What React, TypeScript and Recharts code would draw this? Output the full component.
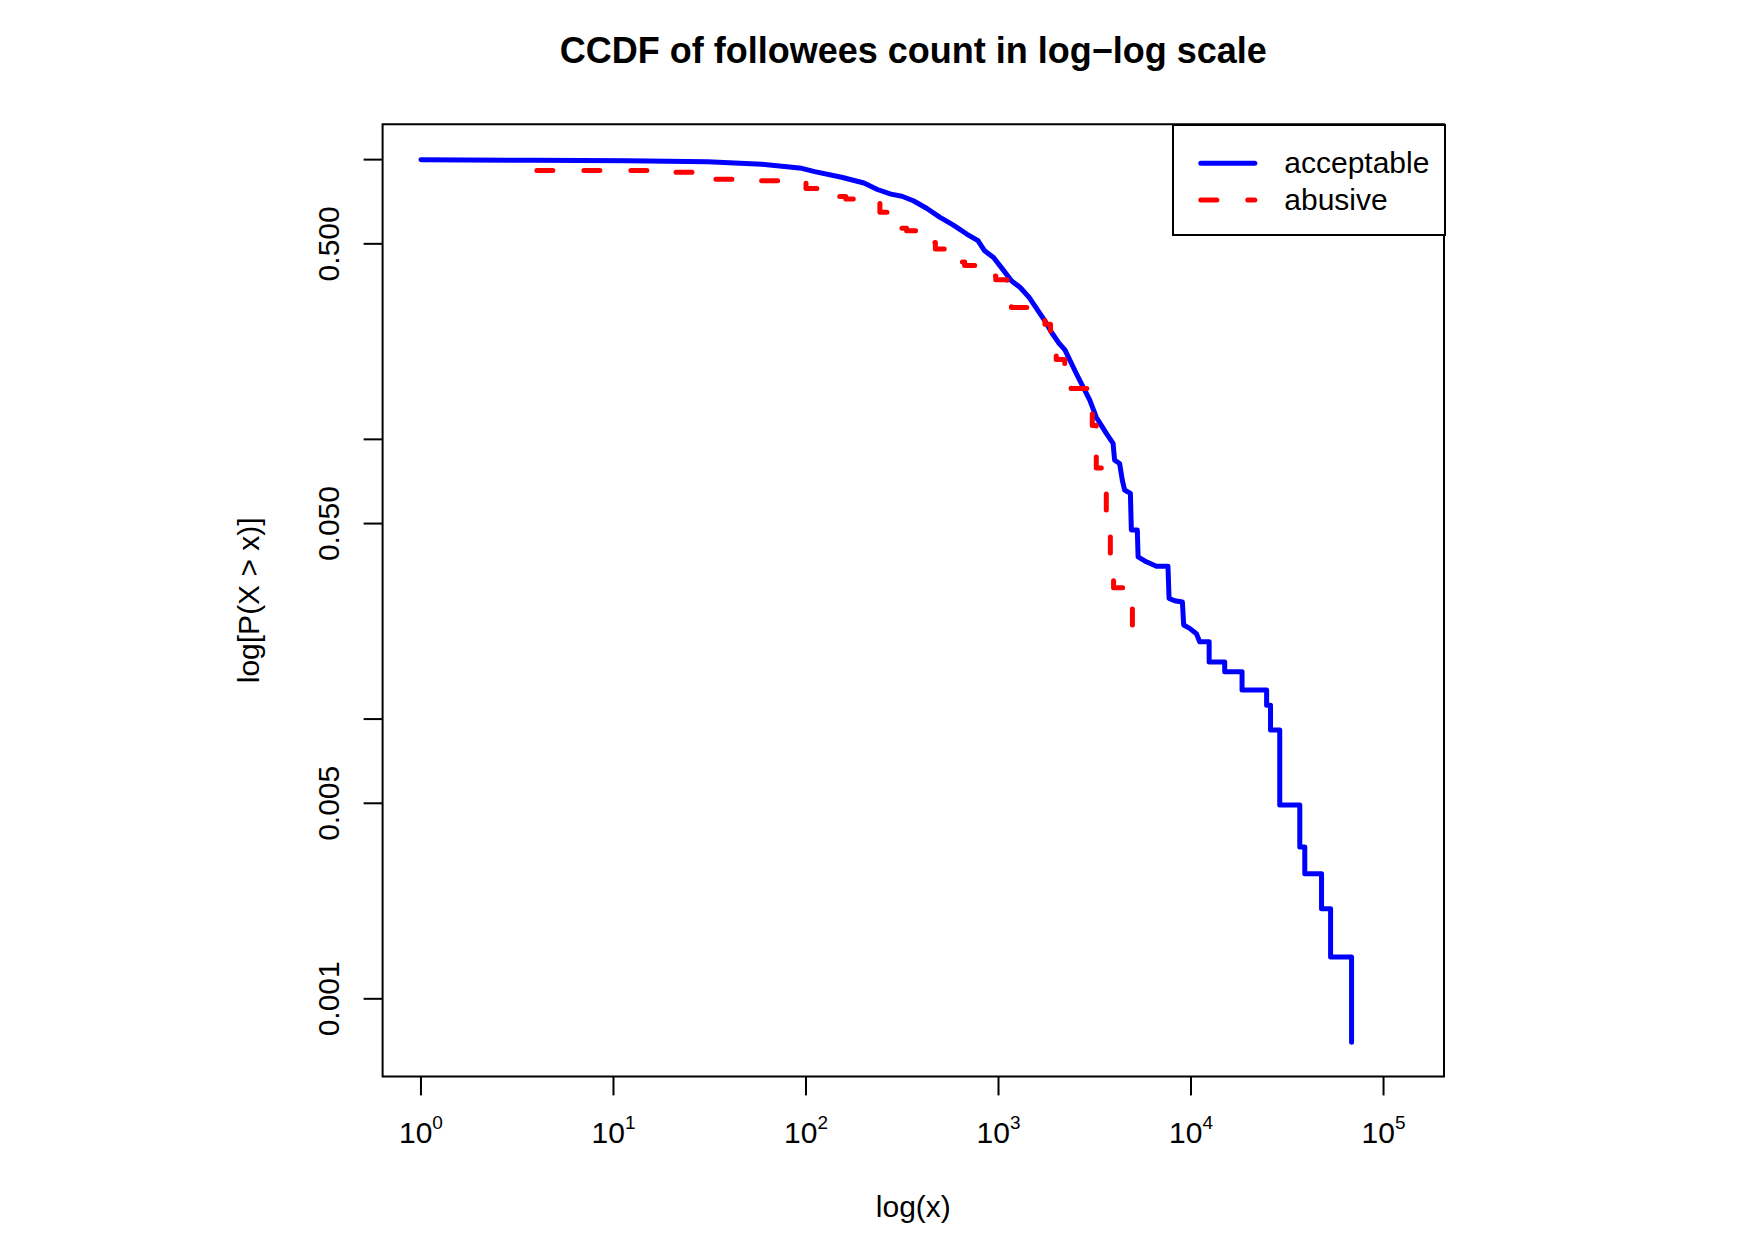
import React from "react";
import { ComposedChart, Line, XAxis, YAxis, ReferenceArea, Legend } from "recharts";

// CCDF read as (followees, P(X > x)) pairs
const acceptableFollowees = [
  1, 3.84, 11.8, 30.8, 59, 95, 111, 153, 200, 235, 276, 315, 361, 423, 497, 583, 684, 782, 847,
  942, 1050, 1167, 1297, 1445, 1607, 1742, 1888, 2046, 2213, 2535, 2979, 3220, 3631, 3936, 4009,
  4256, 4395, 4519, 4842, 4898, 5260, 5310, 5860, 6610, 7590, 7690, 8220, 9020, 9160, 9840,
  10670, 11090, 12420, 12420, 14960, 14960, 18410, 18410, 24700, 24700, 25880, 25880, 28900,
  28900, 36730, 36730, 38990, 38990, 47640, 47640, 53090, 53090, 68230, 68230,
];
const acceptableCcdf = [
  1.0, 0.9945, 0.9918, 0.9835, 0.963, 0.931, 0.906, 0.865, 0.825, 0.782, 0.753, 0.74, 0.713, 0.67,
  0.622, 0.583, 0.542, 0.513, 0.472, 0.447, 0.406, 0.369, 0.349, 0.321, 0.288, 0.265, 0.241, 0.222,
  0.209, 0.172, 0.138, 0.12, 0.105, 0.0968, 0.0843, 0.082, 0.0715, 0.0659, 0.0641, 0.0474, 0.0474,
  0.038, 0.0365, 0.0352, 0.0352, 0.027, 0.0265, 0.0262, 0.0217, 0.0211, 0.0202, 0.0189, 0.0189,
  0.016, 0.016, 0.01476, 0.01476, 0.0127, 0.0127, 0.0112, 0.0112, 0.00914, 0.00914, 0.00493,
  0.00493, 0.00349, 0.00349, 0.0028, 0.0028, 0.0021, 0.0021, 0.00141, 0.00141, 0.0007,
];

const abusiveFollowees = [
  4, 19, 31, 53, 95, 100, 138, 161, 223, 242, 283, 333, 423, 470, 583, 667, 847, 968, 1107, 1167,
  1607, 1742, 1862, 1995, 2208, 2382, 2920, 3070, 3220, 3490, 3630, 3810, 3960, 4900, 4960,
];
const abusiveCcdf = [
  0.915, 0.901, 0.85, 0.841, 0.825, 0.789, 0.738, 0.723, 0.698, 0.648, 0.568, 0.557, 0.506, 0.479,
  0.431, 0.418, 0.384, 0.372, 0.321, 0.296, 0.277, 0.258, 0.211, 0.193, 0.161, 0.152, 0.125, 0.112,
  0.079, 0.066, 0.052, 0.038, 0.0295, 0.0255, 0.019,
];

const seriesNames = ["acceptable", "abusive"];

const xTicks = [1, 10, 100, 1000, 10000, 100000];
const yTicks = [0.001, 0.005, 0.01, 0.05, 0.1, 0.5, 1];
const yLabelled = [0.001, 0.005, 0.05, 0.5];
const yTickLabels = ["0.001", "0.005", "0.050", "0.500"];

const xDomain = [0.632, 206100];
const yDomain = [0.000528, 1.3386];

const acceptableData = acceptableFollowees.map((x, i) => ({ x, y: acceptableCcdf[i] }));
const abusiveData = abusiveFollowees.map((x, i) => ({ x, y: abusiveCcdf[i] }));

const FONT = "'Liberation Sans', Arial, Helvetica, sans-serif";
const DASH = "16 31";

const XTick = (props: any) => {
  const { x, y, payload } = props;
  const exp = Math.round(Math.log10(payload.value));
  return (
    <text x={x} y={y + 48} textAnchor="middle" fontFamily={FONT} fontSize={30} fill="#000">
      10
      <tspan dy={-14} fontSize={19}>
        {exp}
      </tspan>
    </text>
  );
};

const YTick = (props: any) => {
  const { x, y, payload } = props;
  const idx = yLabelled.findIndex((v) => Math.abs(v - payload.value) / v < 1e-6);
  if (idx < 0) return <g />;
  const bx = x - 25;
  return (
    <text
      x={bx}
      y={y}
      transform={`rotate(-90, ${bx}, ${y})`}
      textAnchor="middle"
      fontFamily={FONT}
      fontSize={30}
      fill="#000"
    >
      {yTickLabels[idx]}
    </text>
  );
};

const LegendBox = (props: any) => {
  const entries = [...(props.payload || [])].sort(
    (a: any, b: any) => seriesNames.indexOf(a.value) - seriesNames.indexOf(b.value)
  );
  return (
    <svg width={274} height={112}>
      <rect x={1} y={1} width={272} height={110} fill="#fff" stroke="#000" strokeWidth={2} />
      {entries.map((entry: any, i: number) => {
        const ly = 39.3 + i * 36.7;
        return (
          <g key={entry.value}>
            <line
              x1={28.8}
              x2={82.8}
              y1={ly}
              y2={ly}
              stroke={entry.color}
              strokeWidth={5}
              strokeLinecap="round"
              strokeDasharray={entry.payload?.strokeDasharray}
            />
            <text x={112.3} y={ly + 10} fontFamily={FONT} fontSize={30} fill="#000">
              {entry.value}
            </text>
          </g>
        );
      })}
    </svg>
  );
};

export default function App() {
  return (
    <div
      style={{
        position: "absolute",
        left: 0,
        top: 0,
        width: 1754,
        height: 1241,
        background: "#fff",
        fontFamily: FONT,
      }}
    >
      <ComposedChart
        width={1754}
        height={1241}
        margin={{ top: 124.2, right: 310, bottom: 64.6, left: 282.6 }}
      >
        <XAxis
          type="number"
          dataKey="x"
          scale="log"
          domain={xDomain}
          allowDataOverflow
          ticks={xTicks}
          interval={0}
          tick={XTick}
          tickSize={19}
          tickMargin={0}
          tickLine={{ stroke: "#000", strokeWidth: 2 }}
          axisLine={false}
          height={100}
        />
        <YAxis
          type="number"
          dataKey="y"
          scale="log"
          domain={yDomain}
          allowDataOverflow
          ticks={yTicks}
          interval={0}
          tick={YTick}
          tickSize={19}
          tickMargin={0}
          tickLine={{ stroke: "#000", strokeWidth: 2 }}
          axisLine={false}
          width={100}
        />
        <ReferenceArea
          x1={xDomain[0]}
          x2={xDomain[1]}
          y1={yDomain[0]}
          y2={yDomain[1]}
          fill="none"
          fillOpacity={0}
          stroke="#000"
          strokeWidth={2}
          ifOverflow="visible"
        />
        <Line
          name={seriesNames[0]}
          data={acceptableData}
          dataKey="y"
          type="linear"
          stroke="#0000ff"
          strokeWidth={5}
          strokeLinecap="round"
          strokeLinejoin="round"
          dot={false}
          activeDot={false}
          isAnimationActive={false}
        />
        <Line
          name={seriesNames[1]}
          data={abusiveData}
          dataKey="y"
          type="stepAfter"
          stroke="#ff0000"
          strokeWidth={5}
          strokeDasharray={DASH}
          strokeLinecap="round"
          strokeLinejoin="round"
          dot={false}
          activeDot={false}
          isAnimationActive={false}
        />
        <Legend
          layout="vertical"
          align="center"
          verticalAlign="middle"
          width={274}
          height={112}
          wrapperStyle={{ left: 1171.7, top: 124, width: 274, height: 112 }}
          content={LegendBox}
        />
      </ComposedChart>
      <svg
        width={1754}
        height={1241}
        style={{ position: "absolute", left: 0, top: 0, pointerEvents: "none" }}
      >
        <text x={913.3} y={63} textAnchor="middle" fontFamily={FONT} fontWeight="bold" fontSize={36}>
          CCDF of followees count in log−log scale
        </text>
        <text x={913.3} y={1217} textAnchor="middle" fontFamily={FONT} fontSize={30}>
          log(x)
        </text>
        <text
          x={259}
          y={600.3}
          transform="rotate(-90, 259, 600.3)"
          textAnchor="middle"
          fontFamily={FONT}
          fontSize={30}
        >
          log[P(X &gt; x)]
        </text>
      </svg>
    </div>
  );
}
